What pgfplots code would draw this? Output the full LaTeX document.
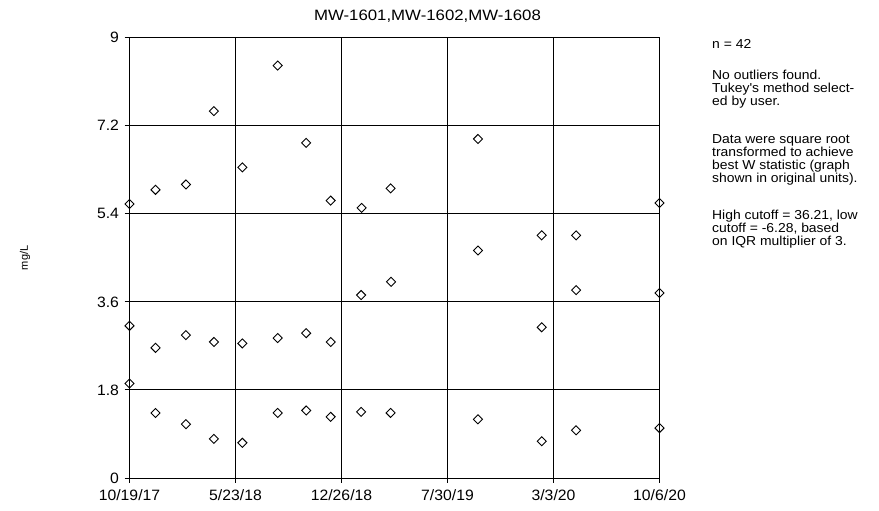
\documentclass[border=0pt]{standalone}
\usepackage{fontspec}
\setmainfont{Liberation Sans}
\newfontfamily\tickfont[FakeStretch=1.05]{Liberation Sans}
\newfontfamily\notefont[FakeStretch=1.07]{Liberation Sans}
\newfontfamily\titlefont[FakeStretch=1.12]{Liberation Sans}
\usepackage{pgfplots}
\pgfplotsset{compat=1.18}
\pgfplotsset{mwmark/.style={only marks, mark=square, mark size=3.2pt,
    mark options={draw=black, fill=white, line width=0.9pt, rotate=45}}}

\begin{document}
\begin{tikzpicture}
\path[use as bounding box] (0,0) rectangle (879pt,511pt);
\begin{axis}[
  at={(129.5pt,33pt)}, anchor=south west,
  scale only axis, width=530pt, height=440.3pt,
  xmin=0, xmax=1080, ymin=0, ymax=9,
  xtick={0,216,432,648,864,1080},
  xticklabels={10/19/17,5/23/18,12/26/18,7/30/19,3/3/20,10/6/20},
  ytick={0,1.8,3.6,5.4,7.2,9},
  yticklabels={0,1.8,3.6,5.4,7.2,9},
  tick pos=left, tick align=outside, major tick length=5pt,
  tick style={black, line width=0.9pt},
  grid=major, major grid style={black, line width=0.9pt},
  axis line style={black, line width=0.9pt},
  tick label style={font=\tickfont\fontsize{15}{17}\selectfont},
  /pgf/number format/assume math mode=true,
  xticklabel style={yshift=-3pt},
  yticklabel style={xshift=-2pt},
  ylabel={mg/L},
  ylabel style={font=\fontsize{11}{13}\selectfont, at={(axis description cs:0,0.5)}, anchor=center, yshift=104.5pt},
  clip=false,
]
% MW series, days since 10/19/17
\addplot[mwmark] coordinates {
(0,5.60) (53,5.89) (115,6.00) (172,7.50) (230,6.35) (302,8.43) (360,6.85)
(410,5.67) (473,5.52) (532,5.92) (710,6.93) (840,4.96) (910,4.96) (710,4.65) (1080,5.62)
};
\addplot[mwmark] coordinates {
(0,3.11) (53,2.66) (115,2.92) (172,2.78) (230,2.75) (302,2.86) (360,2.96)
(410,2.78) (472,3.74) (533,4.01) (840,3.08) (910,3.84) (1080,3.78)
};
\addplot[mwmark] coordinates {
(0,1.93) (53,1.33) (115,1.10) (172,0.80) (230,0.72) (302,1.33) (360,1.38)
(410,1.25) (472,1.35) (532,1.33) (710,1.20) (840,0.75) (910,0.975) (1080,1.02)
};
\end{axis}

\node[anchor=base, font=\titlefont\fontsize{15}{17}\selectfont] at (427.5pt,490.3pt) {MW-1601,MW-1602,MW-1608};

\begin{scope}[every node/.style={anchor=base west, inner sep=0pt, font=\notefont\fontsize{13}{14}\selectfont}]
\node at (712pt,462.7pt) {n = 42};
\node at (712pt,431.5pt) {No outliers found.};
\node at (712pt,418.4pt) {Tukey's method select-};
\node at (712pt,405.3pt) {ed by user.};
\node at (712pt,367.5pt) {Data were square root};
\node at (712pt,354.4pt) {transformed to achieve};
\node at (712pt,341.3pt) {best W statistic (graph};
\node at (712pt,328.2pt) {shown in original units).};
\node at (712pt,291.5pt) {High cutoff = 36.21, low};
\node at (712pt,278.4pt) {cutoff = -6.28, based};
\node at (712pt,265.3pt) {on IQR multiplier of 3.};
\end{scope}
\end{tikzpicture}
\end{document}
